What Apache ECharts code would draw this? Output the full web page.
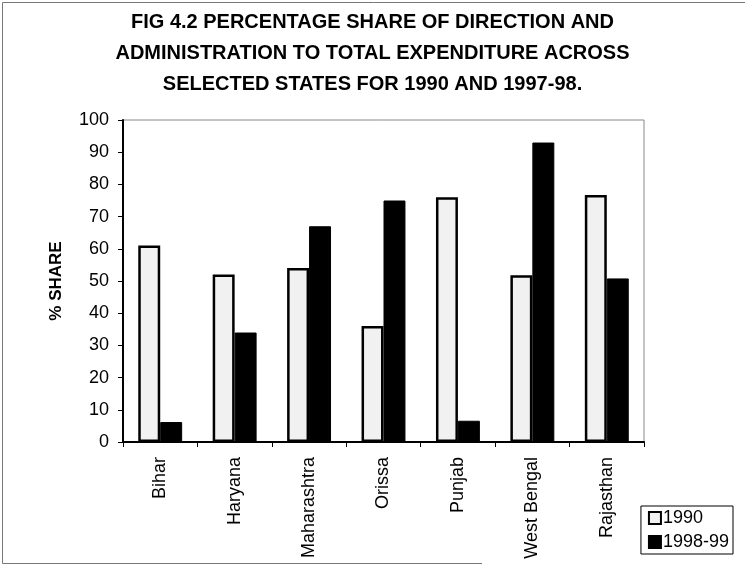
<!DOCTYPE html>
<html>
<head>
<meta charset="utf-8">
<script src="https://cdn.jsdelivr.net/npm/echarts@6/dist/echarts.min.js"></script>
<style>
  html, body { margin: 0; padding: 0; background: #fff; }
  #chart { width: 745px; height: 566px; }
</style>
</head>
<body>
<div id="chart"></div>
<script>
// States compared
const states = ['Bihar', 'Haryana', 'Maharashtra', 'Orissa', 'Punjab', 'West Bengal', 'Rajasthan'];
// % share of direction & administration in total expenditure
const share1990 = [61, 52, 54, 36, 76, 51.8, 76.7];
const share199899 = [6.2, 34, 67, 75, 6.6, 93, 50.8];
const seriesNames = ['1990', '1998-99'];
const yTicks = [0, 10, 20, 30, 40, 50, 60, 70, 80, 90, 100];

const chart = echarts.init(document.getElementById('chart'), null, { renderer: 'canvas' });

const baseFont = '"Liberation Sans", Arial, sans-serif';

const option = {
  backgroundColor: '#fff',
  animation: false,
  title: {
    text: 'FIG 4.2 PERCENTAGE SHARE OF DIRECTION AND\nADMINISTRATION TO TOTAL EXPENDITURE ACROSS\nSELECTED STATES FOR 1990 AND 1997-98.',
    left: 'center',
    top: 2,
    textStyle: {
      fontFamily: '"Liberation Sans Narrow", "Arial Narrow", "Liberation Sans", sans-serif',
      fontWeight: 'bold',
      fontSize: 20,
      lineHeight: 31,
      color: '#000',
      align: 'center'
    }
  },
  legend: {
    orient: 'vertical',
    right: 12,
    top: 506,
    icon: 'rect',
    itemWidth: 12,
    itemHeight: 12,
    itemGap: 6,
    padding: [3, 4, 3, 7],
    borderColor: '#000',
    borderWidth: 1,
    data: seriesNames,
    textStyle: { fontFamily: baseFont, fontSize: 18, color: '#000', padding: [0, 0, 0, -3] }
  },
  grid: { left: 123, right: 101, top: 120, bottom: 124, show: true, borderColor: '#888', borderWidth: 1 },
  xAxis: {
    type: 'category',
    data: states,
    axisLine: { lineStyle: { color: '#000', width: 2 } },
    axisTick: { show: true, length: 5, lineStyle: { color: '#000', width: 1 } },
    axisLabel: {
      rotate: 90,
      margin: 15,
      fontFamily: baseFont,
      fontSize: 18,
      color: '#000'
    }
  },
  yAxis: {
    type: 'value',
    min: yTicks[0],
    max: yTicks[yTicks.length - 1],
    interval: 10,
    name: '% SHARE',
    nameLocation: 'middle',
    nameGap: 58,
    nameTextStyle: { fontFamily: baseFont, fontWeight: 'bold', fontSize: 17, color: '#000' },
    axisLine: { show: true, lineStyle: { color: '#000', width: 2 } },
    axisTick: { show: true, length: 5, lineStyle: { color: '#000', width: 1 } },
    splitLine: { show: false },
    axisLabel: {
      margin: 14,
      fontFamily: baseFont,
      fontSize: 18,
      color: '#000'
    }
  },
  series: [
    {
      name: seriesNames[0],
      type: 'bar',
      data: share1990,
      barGap: '0%',
      barCategoryGap: '41%',
      itemStyle: { color: '#f1f1f1', borderColor: '#000', borderWidth: 2.5 }
    },
    {
      name: seriesNames[1],
      type: 'bar',
      data: share199899,
      itemStyle: { color: '#000', borderColor: '#000', borderWidth: 1 }
    }
  ],
  graphic: [
    {
      // outer frame: top, left and a partial bottom edge
      type: 'polyline',
      shape: { points: [[745, 2.5], [2.5, 2.5], [2.5, 563.5], [482, 563.5]] },
      style: { fill: 'none', stroke: '#777', lineWidth: 1 },
      silent: true
    }
  ]
};

chart.setOption(option);
</script>
</body>
</html>
